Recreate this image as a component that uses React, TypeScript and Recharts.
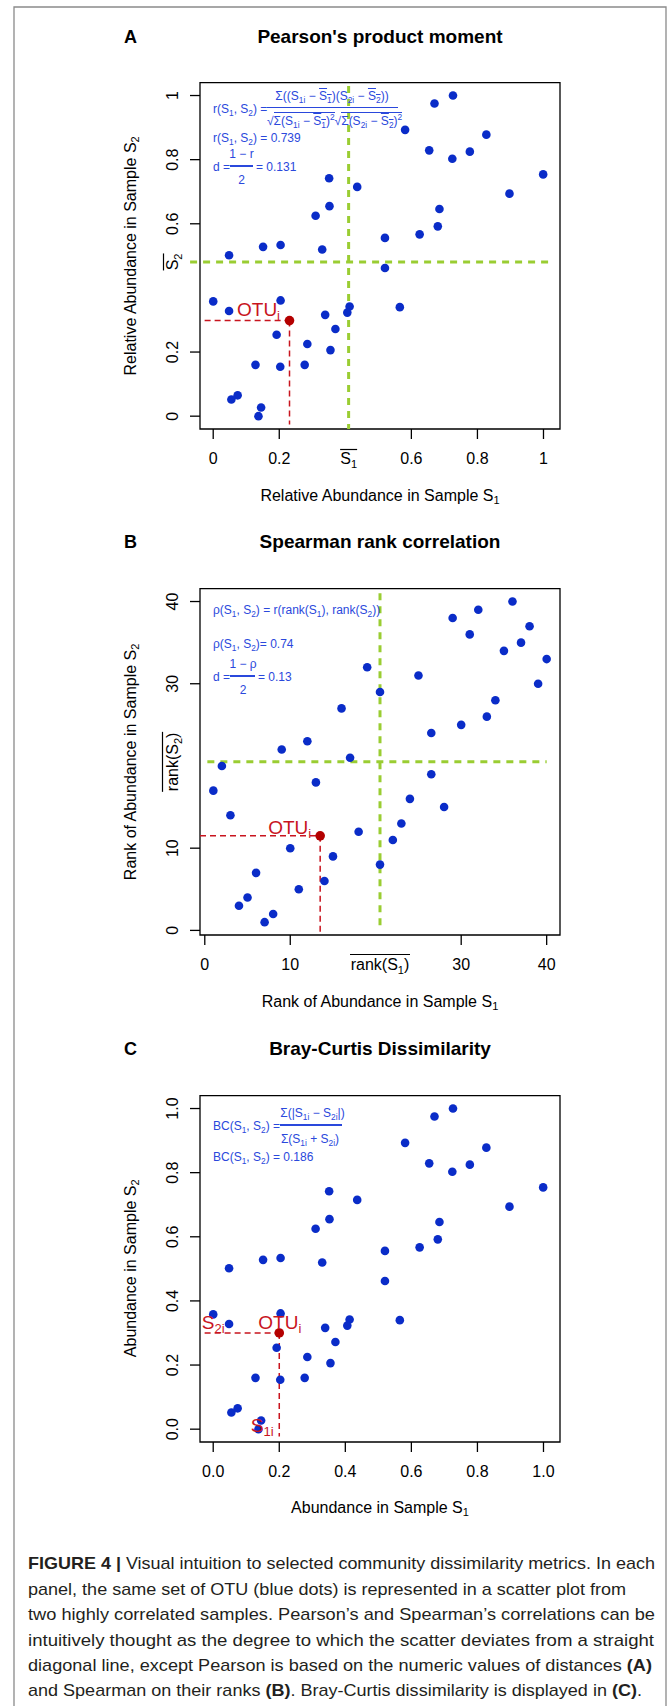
import React from 'react';
import { ScatterChart, Scatter, XAxis, YAxis, ReferenceLine, ReferenceArea } from 'recharts';

const FONT = '"Liberation Sans", Arial, Helvetica, sans-serif';
const DOT_BLUE = '#0a2cc8';
const TEXT_BLUE = '#2a48dc';
const RED = '#c8141e';
const RED_DOT = '#b40000';
const GREEN = '#9acd32';

// relative abundance of the 40 OTUs (panels A and C)
const abundS1 = [
  0.726, 0.670, 0.581, 0.654, 0.724, 0.777, 0.827, 0.999, 0.897, 0.351,
  0.436, 0.352, 0.310, 0.685, 0.680, 0.625, 0.520, 0.151, 0.204, 0.330,
  0.048, 0.520, 0.000, 0.204, 0.048, 0.413, 0.406, 0.565, 0.339, 0.370,
  0.192, 0.285, 0.355, 0.128, 0.203, 0.277, 0.055, 0.074, 0.145, 0.137,
];
const abundS2 = [
  1.000, 0.975, 0.893, 0.829, 0.803, 0.825, 0.878, 0.754, 0.694, 0.742,
  0.715, 0.655, 0.625, 0.646, 0.592, 0.567, 0.556, 0.528, 0.534, 0.520,
  0.502, 0.462, 0.358, 0.361, 0.328, 0.342, 0.323, 0.340, 0.316, 0.272,
  0.254, 0.225, 0.206, 0.160, 0.154, 0.160, 0.052, 0.065, 0.027, 0.000,
];

// ranks (panel B)
const rankS1 = [
  36, 32, 29, 38, 31, 37, 35, 40, 19, 25, 39, 20.5, 34, 16, 33, 30, 26.5, 12, 9, 17,
  2, 26.5, 13, 1, 24, 28, 3, 23, 18, 22, 10, 15, 20.5, 6, 14, 11, 5, 4, 8, 7,
];
const rankS2 = [
  40, 39, 38, 37, 36, 35, 34, 33, 32, 31, 30, 29, 28, 27, 26, 25, 24, 23, 22, 21,
  20, 19, 18, 17, 16, 15, 14, 13, 12, 11, 10, 9, 8, 7, 6, 5, 4, 3, 2, 1,
];

// highlighted OTU_i in each panel
const otuA = [0.231, 0.298];
const otuB = [13.5, 11.5];
const otuC = [0.2, 0.3];

const meanS1 = 0.41;
const meanS2 = 0.481;
const meanRank = 20.5;

const abundTicksA = [0, 0.2, 0.6, 0.8, 1];
const rankTicks = [0, 10, 30, 40];
const abundTicksC = [0, 0.2, 0.4, 0.6, 0.8, 1];

const abundData = abundS1.map((x, i) => ({ x, y: abundS2[i] }));
const rankData = rankS1.map((x, i) => ({ x, y: rankS2[i] }));

const W = 669;
const PANEL_H = 507;
const TICK = 10;
const XM = 19;
const YM = 18;

function meanLabel(kind: 'bar' | 'rank', idx: string) {
  if (kind === 'bar') {
    return (
      <g>
        <text textAnchor="middle" dy="0.35em" fontSize={16} fontFamily={FONT} fill="#000">
          S<tspan fontSize={11} dy={4}>{idx}</tspan>
        </text>
        <line x1={-8.5} x2={8.5} y1={-8.5} y2={-8.5} stroke="#000" strokeWidth={1.2} />
      </g>
    );
  }
  return (
    <g>
      <text textAnchor="middle" dy="0.35em" fontSize={16} fontFamily={FONT} fill="#000">
        rank(S<tspan fontSize={11} dy={4}>{idx}</tspan><tspan dy={-4}>)</tspan>
      </text>
      <line x1={-30} x2={30} y1={-9.5} y2={-9.5} stroke="#000" strokeWidth={1.2} />
    </g>
  );
}

function yTick(fmt: (v: number) => string, mean?: number, kind?: 'bar' | 'rank') {
  return (p: any) => {
    const { x, y, payload } = p;
    const v = payload.value;
    if (mean !== undefined && Math.abs(v - mean) < 1e-9) {
      return <g transform={`translate(${x},${y}) rotate(-90)`}>{meanLabel(kind!, '2')}</g>;
    }
    const edge = x + YM + TICK;
    return (
      <g>
        <line x1={edge - TICK} x2={edge} y1={y} y2={y} stroke="#000" strokeWidth={1.3} />
        <text transform={`translate(${x},${y}) rotate(-90)`} textAnchor="middle" dy="0.35em"
          fontSize={16} fontFamily={FONT} fill="#000">{fmt(v)}</text>
      </g>
    );
  };
}

function xTick(fmt: (v: number) => string, mean?: number, kind?: 'bar' | 'rank') {
  return (p: any) => {
    const { x, y, payload } = p;
    const v = payload.value;
    if (mean !== undefined && Math.abs(v - mean) < 1e-9) {
      return <g transform={`translate(${x},${y})`}>{meanLabel(kind!, '1')}</g>;
    }
    const axisY = y - XM - TICK;
    return (
      <g>
        <line x1={x} x2={x} y1={axisY} y2={axisY + TICK} stroke="#000" strokeWidth={1.3} />
        <text x={x} y={y} dy="0.35em" textAnchor="middle" fontSize={16} fontFamily={FONT} fill="#000">{fmt(v)}</text>
      </g>
    );
  };
}

const blueDot = (p: any) => <circle cx={p.cx} cy={p.cy} r={4.3} fill={DOT_BLUE} />;

function otuShape(dx: number, dy: number, extra?: (cx: number, cy: number) => React.ReactNode) {
  return (p: any) => {
    const { cx, cy } = p;
    return (
      <g>
        <circle cx={cx} cy={cy} r={4.8} fill={RED_DOT} />
        <text x={cx + dx} y={cy + dy} fill={RED} fontSize={19} fontFamily={FONT}>
          OTU<tspan fontSize={13} dy={4}>i</tspan>
        </text>
        {extra ? extra(cx, cy) : null}
      </g>
    );
  };
}

const fmtAbundA = (v: number) => (v === 0 || v === 1 ? String(v) : v.toFixed(1));
const fmtAbundC = (v: number) => v.toFixed(1);
const fmtRank = (v: number) => String(v);

type Pt = { x: number; y: number };

interface PanelProps {
  top: number;
  data: Pt[];
  otu: number[];
  xDomain: [number, number];
  yDomain: [number, number];
  xTicks: number[];
  yTicks: number[];
  fmt: (v: number) => string;
  xMean?: number;
  yMean?: number;
  kind?: 'bar' | 'rank';
  green?: { h: [Pt, Pt]; v: [Pt, Pt] };
  redH: [Pt, Pt];
  redV: [Pt, Pt];
  shape: (p: any) => React.ReactNode;
}

function Panel(props: PanelProps) {
  const { top, data, otu, xDomain, yDomain, xTicks, yTicks, fmt, xMean, yMean, kind, green, redH, redV, shape } = props;
  return (
    <div style={{ position: 'absolute', left: 0, top }}>
      <ScatterChart width={W} height={PANEL_H} margin={{ top: 82.7, right: 109, bottom: 38, left: 140 }}>
        <XAxis dataKey="x" type="number" domain={xDomain} allowDataOverflow ticks={xTicks} interval={0}
          axisLine={false} tickLine={false} tickSize={TICK} tickMargin={XM} height={40}
          tick={xTick(fmt, xMean, kind)} />
        <YAxis dataKey="y" type="number" domain={yDomain} allowDataOverflow ticks={yTicks} interval={0}
          axisLine={false} tickLine={false} tickSize={TICK} tickMargin={YM} width={60}
          tick={yTick(fmt, yMean, kind)} />
        <ReferenceArea x1={xDomain[0]} x2={xDomain[1]} y1={yDomain[0]} y2={yDomain[1]}
          fill="none" fillOpacity={0} stroke="#000" strokeWidth={1.3} ifOverflow="visible" />
        <Scatter data={data} shape={blueDot} isAnimationActive={false} />
        {green && (
          <ReferenceLine segment={green.h} stroke={GREEN} strokeWidth={3} strokeDasharray="7 6" ifOverflow="visible" />
        )}
        {green && (
          <ReferenceLine segment={green.v} stroke={GREEN} strokeWidth={3} strokeDasharray="7 6" ifOverflow="visible" />
        )}
        <ReferenceLine segment={redH} stroke={RED} strokeWidth={1.5} strokeDasharray="6 4" ifOverflow="visible" />
        <ReferenceLine segment={redV} stroke={RED} strokeWidth={1.5} strokeDasharray="6 4" ifOverflow="visible" />
        <Scatter data={[{ x: otu[0], y: otu[1] }]} shape={shape} isAnimationActive={false} />
      </ScatterChart>
    </div>
  );
}

// small HTML helpers for the formulas
const Sb = ({ children }: { children: React.ReactNode }) => (
  <sub style={{ fontSize: '0.7em', verticalAlign: '-0.3em', lineHeight: 0 }}>{children}</sub>
);
const Ov = ({ children }: { children: React.ReactNode }) => (
  <span style={{ textDecoration: 'overline' }}>{children}</span>
);
const Sq = () => <sup style={{ fontSize: '0.7em', lineHeight: 0 }}>2</sup>;
const Rt = ({ children }: { children: React.ReactNode }) => (
  <span>{'\u221a'}<span style={{ borderTop: '1px solid', paddingTop: 1 }}>{children}</span></span>
);
function T({ x, y, c, children }: { x: number; y: number; c?: boolean; children: React.ReactNode }) {
  return (
    <div style={{
      position: 'absolute', left: x, top: y, whiteSpace: 'nowrap', lineHeight: 1,
      transform: c ? 'translate(-50%,-50%)' : 'translate(0,-50%)',
    }}>{children}</div>
  );
}
const Bar = ({ x, y, w }: { x: number; y: number; w: number }) => (
  <div style={{ position: 'absolute', left: x, top: y - 0.75, width: w, height: 1.5, background: TEXT_BLUE }} />
);
const S12 = () => <>(S<Sb>1</Sb>, S<Sb>2</Sb>)</>;

function Formulas() {
  return (
    <div style={{ position: 'absolute', left: 0, top: 0, color: TEXT_BLUE, fontFamily: FONT, fontSize: 12 }}>
      {/* Pearson */}
      <T x={332} y={95.5} c>{'\u03a3'}((S<Sb>1i</Sb> {'\u2212'} <Ov>S<Sb>1</Sb></Ov>)(S<Sb>2i</Sb> {'\u2212'} <Ov>S<Sb>2</Sb></Ov>))</T>
      <T x={213} y={108.5}>r<S12 /> =</T>
      <Bar x={267} y={107.3} w={131} />
      <T x={267} y={120.5}><Rt>{'\u03a3'}(S<Sb>1i</Sb> {'\u2212'} <Ov>S<Sb>1</Sb></Ov>)<Sq /></Rt><Rt>{'\u03a3'}(S<Sb>2i</Sb> {'\u2212'} <Ov>S<Sb>2</Sb></Ov>)<Sq /></Rt></T>
      <T x={213} y={137.5}>r<S12 /> = 0.739</T>
      <T x={241.5} y={154} c>1 {'\u2212'} r</T>
      <T x={213} y={166.5}>d =</T>
      <Bar x={230} y={166} w={23} />
      <T x={256} y={166.5}>= 0.131</T>
      <T x={241.5} y={180} c>2</T>

      {/* Spearman */}
      <T x={213} y={610}>{'\u03c1'}<S12 /> = r(rank(S<Sb>1</Sb>), rank(S<Sb>2</Sb>))</T>
      <T x={213} y={643.5}>{'\u03c1'}<S12 />= 0.74</T>
      <T x={243} y={663.5} c>1 {'\u2212'} {'\u03c1'}</T>
      <T x={213} y={676.5}>d =</T>
      <Bar x={230} y={676} w={25} />
      <T x={258} y={676.5}>= 0.13</T>
      <T x={243} y={690} c>2</T>

      {/* Bray-Curtis */}
      <T x={312.5} y={1112.7} c>{'\u03a3'}(|S<Sb>1i</Sb> {'\u2212'} S<Sb>2i</Sb>|)</T>
      <T x={213} y={1125.5}>BC<S12 /> =</T>
      <Bar x={279.5} y={1125} w={62} />
      <T x={310} y={1138.5} c>{'\u03a3'}(S<Sb>1i</Sb> + S<Sb>2i</Sb>)</T>
      <T x={213} y={1157}>BC<S12 /> = 0.186</T>
    </div>
  );
}

function Decorations() {
  const title = { fontSize: 19, fontWeight: 700, fontFamily: FONT, fill: '#000', textAnchor: 'middle' as const };
  const letter = { fontSize: 18, fontWeight: 700, fontFamily: FONT, fill: '#000', textAnchor: 'middle' as const };
  const axis = { fontSize: 16, fontFamily: FONT, fill: '#000', textAnchor: 'middle' as const };
  const cap = { fontSize: 17, fontFamily: FONT, fill: '#231f20', lengthAdjust: 'spacingAndGlyphs' as const };
  const sb = (s: string) => <tspan fontSize={11} dy={3}>{s}</tspan>;
  return (
    <svg width={W} height={1706} style={{ position: 'absolute', left: 0, top: 0 }}>
      <path d="M14,1712 V7 H666 V1712" fill="none" stroke="#8a8a8a" strokeWidth={1.3} />

      <text x={130.5} y={42.5} {...letter}>A</text>
      <text x={380} y={42.5} {...title}>Pearson's product moment</text>
      <text x={130.5} y={548} {...letter}>B</text>
      <text x={380} y={548} {...title}>Spearman rank correlation</text>
      <text x={130.5} y={1054.5} {...letter}>C</text>
      <text x={380} y={1054.5} {...title}>Bray-Curtis Dissimilarity</text>

      <text x={380} y={500.7} {...axis}>Relative Abundance in Sample S{sb('1')}</text>
      <text x={380} y={1007} {...axis}>Rank of Abundance in Sample S{sb('1')}</text>
      <text x={380} y={1513.3} {...axis}>Abundance in Sample S{sb('1')}</text>
      <text transform="translate(135.7,255.9) rotate(-90)" {...axis}>Relative Abundance in Sample S{sb('2')}</text>
      <text transform="translate(135.7,761.9) rotate(-90)" {...axis}>Rank of Abundance in Sample S{sb('2')}</text>
      <text transform="translate(135.7,1268.3) rotate(-90)" {...axis}>Abundance in Sample S{sb('2')}</text>

      <text x={28} y={1569} textLength={627} {...cap}>
        <tspan fontWeight={700}>FIGURE 4 | </tspan>Visual intuition to selected community dissimilarity metrics. In each
      </text>
      <text x={28} y={1594.6} textLength={598} {...cap}>
        panel, the same set of OTU (blue dots) is represented in a scatter plot from
      </text>
      <text x={28} y={1620.3} textLength={627} {...cap}>
        two highly correlated samples. Pearson{'\u2019'}s and Spearman{'\u2019'}s correlations can be
      </text>
      <text x={28} y={1645.6} textLength={626} {...cap}>
        intuitively thought as the degree to which the scatter deviates from a straight
      </text>
      <text x={28} y={1671.3} textLength={624} {...cap}>
        diagonal line, except Pearson is based on the numeric values of distances <tspan fontWeight={700}>(A)</tspan>
      </text>
      <text x={28} y={1696.3} textLength={614} {...cap}>
        and Spearman on their ranks <tspan fontWeight={700}>(B)</tspan>. Bray-Curtis dissimilarity is displayed in <tspan fontWeight={700}>(C)</tspan>.
      </text>
    </svg>
  );
}

const otuLabelC = (cx: number, cy: number) => (
  <g fill={RED} fontSize={19} fontFamily={FONT}>
    <text x={cx - 77.5} y={cy - 4}>S<tspan fontSize={13} dy={4}>2i</tspan></text>
    <text x={cx - 28.5} y={cy + 99}>S<tspan fontSize={13} dy={4}>1i</tspan></text>
  </g>
);

export default function App() {
  const abDom: [number, number] = [-0.04, 1.05];
  const abDomY: [number, number] = [-0.04, 1.04];
  const rkDom: [number, number] = [-0.56, 41.56];
  return (
    <div style={{ position: 'absolute', left: 0, top: 0, width: W, height: 1706, background: '#fff', overflow: 'hidden' }}>
      <Decorations />
      <Panel
        top={0}
        data={abundData}
        otu={otuA}
        xDomain={abDom}
        yDomain={abDomY}
        xTicks={[...abundTicksA, meanS1].sort((a, b) => a - b)}
        yTicks={[...abundTicksA, meanS2].sort((a, b) => a - b)}
        fmt={fmtAbundA}
        xMean={meanS1}
        yMean={meanS2}
        kind="bar"
        green={{
          h: [{ x: -0.07, y: meanS2 }, { x: 1.03, y: meanS2 }],
          v: [{ x: meanS1, y: 1.03 }, { x: meanS1, y: -0.04 }],
        }}
        redH={[{ x: -0.026, y: otuA[1] }, { x: otuA[0], y: otuA[1] }]}
        redV={[{ x: otuA[0], y: otuA[1] }, { x: otuA[0], y: -0.026 }]}
        shape={otuShape(-52.5, -4.6)}
      />
      <Panel
        top={506}
        data={rankData}
        otu={otuB}
        xDomain={rkDom}
        yDomain={rkDom}
        xTicks={[...rankTicks, meanRank].sort((a, b) => a - b)}
        yTicks={[...rankTicks, meanRank].sort((a, b) => a - b)}
        fmt={fmtRank}
        xMean={meanRank}
        yMean={meanRank}
        kind="rank"
        green={{
          h: [{ x: 0.3, y: meanRank }, { x: 40, y: meanRank }],
          v: [{ x: meanRank, y: 41 }, { x: meanRank, y: 0 }],
        }}
        redH={[{ x: -0.56, y: otuB[1] }, { x: otuB[0], y: otuB[1] }]}
        redV={[{ x: otuB[0], y: otuB[1] }, { x: otuB[0], y: -0.56 }]}
        shape={otuShape(-52, -2)}
      />
      <Panel
        top={1013}
        data={abundData}
        otu={otuC}
        xDomain={abDom}
        yDomain={abDomY}
        xTicks={abundTicksC}
        yTicks={abundTicksC}
        fmt={fmtAbundC}
        redH={[{ x: -0.026, y: otuC[1] }, { x: otuC[0], y: otuC[1] }]}
        redV={[{ x: otuC[0], y: otuC[1] }, { x: otuC[0], y: -0.023 }]}
        shape={otuShape(-21, -4, otuLabelC)}
      />
      <Formulas />
    </div>
  );
}
